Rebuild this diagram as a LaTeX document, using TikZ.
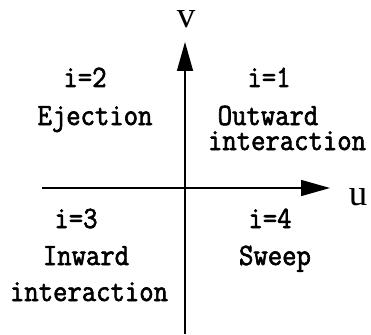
\documentclass[tikz,border=0pt]{standalone}
\usepackage{fontspec}
\usetikzlibrary{arrows.meta}
\newfontfamily\quadfont[FakeBold=2, FakeStretch=0.9]{Latin Modern Mono}
\newfontfamily\axisfont{Liberation Serif}
\tikzset{
  % Axis lines with solid heads
  axis/.style={line width=1.5pt, -{Triangle[length=29pt, width=16pt]}},
  % Labels
  quadlabel/.style={anchor=base, inner sep=0pt, font=\fontsize{31}{31}\quadfont},
  axislabel/.style={anchor=base, inner sep=0pt, font=\fontsize{37}{37}\axisfont},
}

\begin{document}
\begin{tikzpicture}[x=1pt, y=-1pt]
  \useasboundingbox (0,0) rectangle (371,334);

  % --- AXES ---
  \coordinate (uStart) at (42,188);
  \coordinate (uEnd)   at (330,188);
  \coordinate (vStart) at (185,334);
  \coordinate (vEnd)   at (185,42);
  \draw[axis] (uStart) -- (uEnd);
  \draw[axis] (vStart) -- (vEnd);
  \node[axislabel] (uLabel) at (358,205) {u};
  \node[axislabel] (vLabel) at (186,28) {v};

  % --- QUADRANT 1 ---
  \node[quadlabel] (q1-num)  at (269,87)  {i=1};
  \node[quadlabel] (q1-name) at (268,125) {Outward};
  \node[quadlabel] (q1-more) at (287,150) {interaction};

  % --- QUADRANT 2 ---
  \node[quadlabel] (q2-num)  at (85,87)  {i=2};
  \node[quadlabel] (q2-name) at (95,125) {Ejection};

  % --- QUADRANT 3 ---
  \node[quadlabel] (q3-num)  at (76,228) {i=3};
  \node[quadlabel] (q3-name) at (86,265) {Inward};
  \node[quadlabel] (q3-more) at (89,301) {interaction};

  % --- QUADRANT 4 ---
  \node[quadlabel] (q4-num)  at (270,228) {i=4};
  \node[quadlabel] (q4-name) at (275,265) {Sweep};

\end{tikzpicture}
\end{document}
